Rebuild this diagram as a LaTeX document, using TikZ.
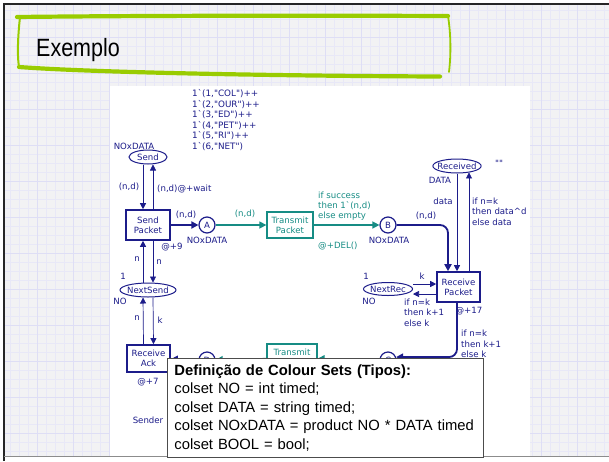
\documentclass[tikz,border=0pt]{standalone}
\usepackage{fontspec}
\setmainfont{Liberation Sans}
\newfontfamily\netfont{DejaVu Sans}
\usetikzlibrary{shapes.geometric,arrows.meta}

\definecolor{navy}{RGB}{28,28,138}
\definecolor{netteal}{RGB}{22,140,132}
\definecolor{slidebg}{RGB}{242,242,244}
\definecolor{gridminor}{RGB}{232,232,247}
\definecolor{gridmajor}{RGB}{222,222,245}
\definecolor{brush}{RGB}{153,204,0}

\tikzset{
  netfontstyle/.style={font=\netfont\fontsize{8.6}{10.3}\selectfont},
  lbl/.style={netfontstyle, text=navy, inner sep=0pt},
  tlbl/.style={netfontstyle, text=netteal, inner sep=0pt},
  place/.style={ellipse, draw=navy, line width=1pt, fill=white, netfontstyle,
    text=navy, inner xsep=-2.5pt, inner ysep=0.5pt},
  circplace/.style={circle, draw=navy, line width=1.2pt, fill=white, netfontstyle,
    text=navy, minimum size=16pt, inner sep=0pt},
  trans/.style={rectangle, draw=navy, line width=1.6pt, fill=white, netfontstyle,
    text=navy, align=center, inner sep=0pt},
  ttrans/.style={rectangle, draw=netteal, line width=1.3pt, fill=white, netfontstyle,
    text=netteal, align=center, inner sep=0pt},
  arc/.style={draw=navy, line width=0.7pt, -{Triangle[length=6pt,width=6pt]}},
  thickarc/.style={draw=navy, line width=1.8pt, -{Triangle[length=7pt,width=7pt]}},
  tealarc/.style={draw=netteal, line width=1.4pt, -{Triangle[length=7pt,width=7pt]}},
  brushstroke/.style={draw=brush, line cap=round, line join=round},
}

\begin{document}
\begin{tikzpicture}[x=1pt,y=-1pt]
\useasboundingbox (0,0) rectangle (609,461);

% slide background with graph-paper grid
\fill[white] (0,0) rectangle (609,461);
\fill[slidebg] (4,4) rectangle (609,456);
\foreach \g in {10,19,...,608} \draw[gridminor, line width=0.6pt] (\g,4) -- (\g,456);
\foreach \g in {10,19,...,455} \draw[gridminor, line width=0.6pt] (4,\g) -- (609,\g);
\foreach \g in {37,73,...,608} \draw[gridmajor, line width=1pt] (\g,4) -- (\g,456);
\foreach \g in {37,73,...,455} \draw[gridmajor, line width=1pt] (4,\g) -- (609,\g);
\draw[black!85, line width=2.2pt] (4,461) -- (4,4) -- (609,4);
\draw[black!45, line width=1pt] (4,456.5) -- (609,456.5);

% title banner
\draw[brushstroke, line width=4.2pt] (17,17) .. controls (150,15.5) and (320,15.5) .. (448,16);
\draw[brushstroke, line width=1.8pt] (448,16) .. controls (451,35) and (451,55) .. (449,72);
\draw[brushstroke, line width=2pt] (20,17) .. controls (18,35) and (17,55) .. (19,67);
\draw[brushstroke, line width=4.2pt] (19,67) .. controls (100,73) and (300,76) .. (440,76.5);
\node[anchor=base west, inner sep=0pt, font=\fontsize{25}{28}\selectfont, xscale=0.86]
  (title) at (36,56) {Exemplo};

% white drawing sheet
\fill[white] (110,86) rectangle (530,456);

% initial marking
\node[lbl, anchor=west, align=left, font=\netfont\fontsize{8.8}{10.45}\selectfont]
  (marking) at (192,120) {1`(1,"COL")++\\1`(2,"OUR")++\\1`(3,"ED")++\\1`(4,"PET")++\\1`(5,"RI")++\\1`(6,"NET")};

% places and transitions
\node[place, minimum width=38pt, minimum height=14pt] (send) at (148,157) {Send};
\node[trans, minimum width=44pt, minimum height=30pt] (sp) at (148,225) {Send\\Packet};
\node[place, minimum width=56pt, minimum height=14pt] (nextsend) at (148,290) {NextSend};
\node[trans, minimum width=43pt, minimum height=27pt] (ra) at (148.5,358.5) {Receive\\Ack};
\node[circplace] (A) at (207,225) {A};
\node[ttrans, minimum width=46pt, minimum height=26pt] (tp) at (290,225) {Transmit\\Packet};
\node[circplace] (B) at (388,225) {B};
\node[place, minimum width=48pt, minimum height=14pt] (received) at (457,166) {Received};
\node[trans, minimum width=43pt, minimum height=30pt] (rp) at (458.5,287) {Receive\\Packet};
\node[place, minimum width=49pt, minimum height=13pt] (nextrec) at (388,289) {NextRec};
\node[circplace] (C) at (388,360) {C};
\node[ttrans, minimum width=50pt, minimum height=28pt, text height=9pt, text depth=15pt]
  (ta) at (292,358) {Transmit};
\node[circplace] (D) at (207,360) {D};

% arcs of the sender
\draw[arc] ([xshift=-5pt]send.south) -- ([xshift=-5pt]sp.north);
\draw[arc] ([xshift=5pt]sp.north) -- ([xshift=5pt]send.south);
\draw[arc] ([xshift=5pt]sp.south) -- ([xshift=5pt]nextsend.north);
\draw[arc] ([xshift=-5pt]nextsend.north) -- ([xshift=-5pt]sp.south);
\draw[arc] ([xshift=5pt]nextsend.south) -- ([xshift=5pt]ra.north);
\draw[arc] ([xshift=-5pt]ra.north) -- ([xshift=-5pt]nextsend.south);
\draw[thickarc] (sp) -- (A);
% network
\draw[tealarc] (A) -- (tp);
\draw[tealarc] (tp) -- (B);
\draw[tealarc] (C) -- (ta);
\draw[tealarc] (ta) -- (D);
\draw[thickarc] (D) -- (ra);
% receiver
\draw[thickarc, rounded corners=8pt] (B) -| ([xshift=-10.5pt]rp.north);
\draw[arc] (received.south) -- (received.south |- rp.north);
\draw[arc] ([xshift=10.5pt]rp.north) -- ([xshift=10.5pt]rp.north |- received.-27);
\draw[arc] ([yshift=5pt]nextrec.east) -- ([yshift=5pt]nextrec.east -| rp.west);
\draw[arc] ([yshift=-5pt]nextrec.east -| rp.west) -- ([yshift=-5pt]nextrec.east);
\draw[thickarc, rounded corners=8pt] ([xshift=-1.5pt]rp.south) |- (C.20);

% inscriptions
\node[lbl] (sendtype) at (134,146) {NOxDATA};
\node[lbl] (lsend1) at (129,187) {(n,d)};
\node[lbl, anchor=west] (lsend2) at (157,189) {(n,d)@+wait};
\node[lbl] (lna) at (186,215) {(n,d)};
\node[tlbl] (lat) at (245,214) {(n,d)};
\node[lbl] (atype) at (207,240) {NOxDATA};
\node[lbl] (sptime) at (172,247) {@+9};
\node[lbl] (ln1) at (137,259) {n};
\node[lbl] (ln2) at (159,262) {n};
\node[lbl] (ns1) at (123,276) {1};
\node[lbl] (nstype) at (120,301) {NO};
\node[lbl] (ln3) at (137,318) {n};
\node[lbl] (lk1) at (160,320) {k};
\node[lbl] (ratime) at (148,382) {@+7};
\node[lbl] (sender) at (148,420) {Sender};
\node[tlbl, anchor=west, align=left] (ltb) at (318,206) {if success\\then 1`(n,d)\\else empty};
\node[tlbl, anchor=west] (tptime) at (318,246) {@+DEL()};
\node[lbl] (btype) at (389,240) {NOxDATA};
\node[lbl] (lbr) at (426,216) {(n,d)};
\node[lbl] (recinit) at (499,163) {""};
\node[lbl] (rectype) at (440,180) {DATA};
\node[lbl] (ldata) at (443,201) {data};
\node[lbl, anchor=west, align=left] (lrec) at (472,211.5) {if n=k\\then data\^{}d\\else data};
\node[lbl] (nr1) at (366,276) {1};
\node[lbl] (lk2) at (422,276) {k};
\node[lbl] (nrtype) at (369,301) {NO};
\node[lbl, anchor=west, align=left] (lnr) at (404,312.5) {if n=k\\then k+1\\else k};
\node[lbl] (rptime) at (469,311) {@+17};
\node[lbl, anchor=west, align=left] (lrc) at (461,344) {if n=k\\then k+1\\else k};

% colour set declarations
\node[draw=black!70, line width=0.9pt, fill=white, anchor=north west,
  minimum width=316pt, minimum height=99pt, text width=302pt, inner xsep=7pt,
  align=left, font=\fontsize{14.8}{18.5}\selectfont] (defs) at (167,358)
  {\textbf{Definição de Colour Sets (Tipos):}\\
   colset NO = int timed;\\
   colset DATA = string timed;\\
   colset NOxDATA = product NO * DATA timed\\
   colset BOOL = bool;};
\end{tikzpicture}
\end{document}
